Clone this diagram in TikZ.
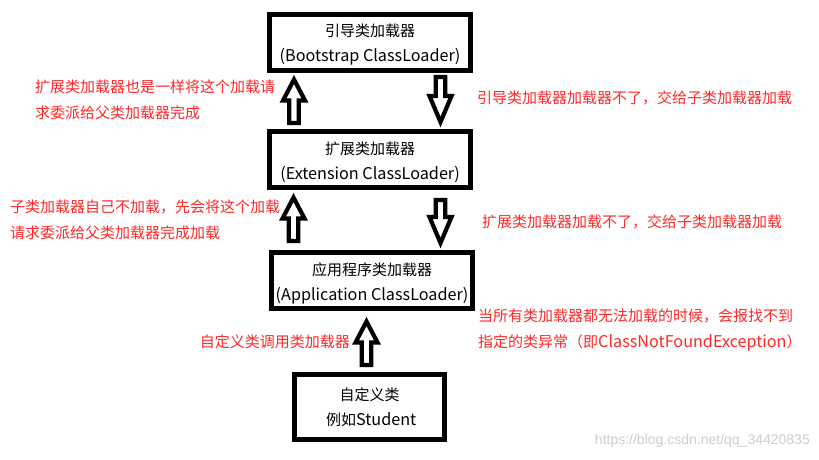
\documentclass[tikz,border=0pt]{standalone}
\usepackage{fontspec}
\setmainfont{Noto Sans CJK SC}
\newfontfamily\latfont{Noto Sans CJK SC}[Scale=1.08]
\newfontfamily\markfont{Liberation Sans}
\newcommand{\lat}[1]{{\latfont #1}}
\newcommand{\boxstrut}{\rule{0pt}{18pt}}
\usetikzlibrary{calc}
\definecolor{notered}{RGB}{255,40,40}
\definecolor{markgray}{RGB}{205,205,205}
% 白抜き矢印 (#1 頭の長さ, #2 根元, #3 先端)
\newcommand{\blkarrow}[3][21]{%
	\draw[blkline] ($(#3|-#2)+(-4.7,0)$) -- ($(#3)!#1pt!(#3|-#2)+(-4.7,0)$)
	-- ($(#3)!#1pt!(#3|-#2)+(-11,0)$) -- (#3)
	-- ($(#3)!#1pt!(#3|-#2)+(11,0)$) -- ($(#3)!#1pt!(#3|-#2)+(4.7,0)$)
	-- ($(#3|-#2)+(4.7,0)$) -- cycle;}
\begin{document}
\begin{tikzpicture}[x=1pt,y=-1pt,
	box/.style={draw, line width=5pt, minimum width=201pt, minimum height=56pt, align=center, inner sep=2pt, font=\fontsize{15}{25}\selectfont},
	note/.style={text=notered, align=left, inner sep=0pt, font=\fontsize{15}{26}\selectfont},
	blkline/.style={line width=4.2pt, line join=miter}]
		% 背景
		\path[fill=white] (0,0) rectangle (819,460);
		% クラスローダ
		\node[box] (boot) at (370,42.25) {\boxstrut 引导类加载器\\\lat{(Bootstrap ClassLoader)}};
		\node[box] (ext) at (370,159.5) {\boxstrut 扩展类加载器\\\lat{(Extension ClassLoader)}};
		\node[box] (app) at (372,280.5) {\boxstrut 应用程序类加载器\\\lat{(Application ClassLoader)}};
		\node[box, minimum width=150pt, minimum height=65pt] (stu) at (369.5,407) {自定义类\\\ 例如\lat{Student}};
		% 矢印の端点
		\coordinate (a1s) at ([shift={(-76,-6)}]ext.north);
		\coordinate (a1t) at ([shift={(-76,6.75)}]boot.south);
		\coordinate (a2s) at ([shift={(70.5,4.25)}]boot.south);
		\coordinate (a2t) at ([shift={(70.5,-7)}]ext.north);
		\coordinate (a3s) at ([shift={(-78.5,-9)}]app.north);
		\coordinate (a3t) at ([shift={(-76.5,7.5)}]ext.south);
		\coordinate (a4s) at ([shift={(70.5,10)}]ext.south);
		\coordinate (a4t) at ([shift={(68.5,-7)}]app.north);
		\coordinate (a5s) at ([shift={(-3,-7)}]stu.north);
		\coordinate (a5t) at ([shift={(-5.5,10.5)}]app.south);
		% 矢印
		\blkarrow{a1s}{a1t}
		\blkarrow[26]{a2s}{a2t}
		\blkarrow{a3s}{a3t}
		\blkarrow[26]{a4s}{a4t}
		\blkarrow{a5s}{a5t}
		% 説明
		\node[note, anchor=west] (extup) at (35,100) {扩展类加载器也是一样将这个加载请\\求委派给父类加载器完成};
		\node[note, anchor=west] (bootdown) at (477,98) {引导类加载器加载器不了，交给子类加载器加载};
		\node[note, anchor=west] (appup) at (10,219.5) {子类加载器自己不加载，先会将这个加载\\请求委派给父类加载器完成加载};
		\node[note, anchor=west] (extdown) at (482,222) {扩展类加载器加载不了，交给子类加载器加载};
		\node[note, anchor=west] (failnote) at (478,330) {当所有类加载器都无法加载的时候，会报找不到\\指定的类异常（即\lat{ClassNotFoundException}）};
		\node[note, anchor=east] (stuup) at (350,342) {自定义类调用类加载器};
		% 透かし
		\node[text=markgray, font=\markfont\fontsize{14}{14}\selectfont, anchor=east, inner sep=0pt] (mark) at (810,441) {https://blog.csdn.net/qq\_34420835};
	\end{tikzpicture}
\end{document}
